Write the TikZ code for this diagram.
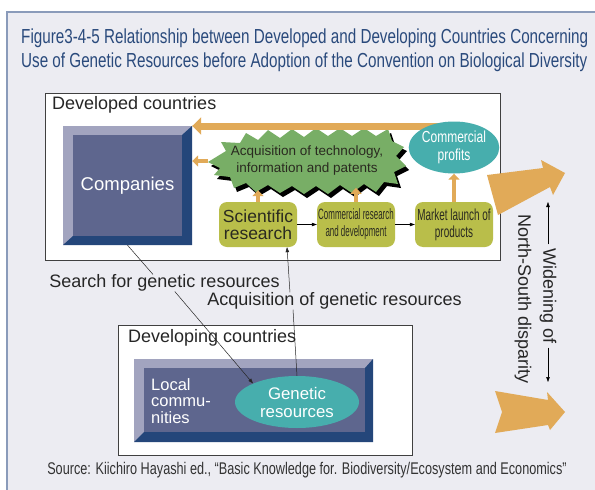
\documentclass[tikz,border=0pt]{standalone}
\usepackage{fontspec}
\setmainfont{Liberation Sans}
\newfontfamily\narrowfont[FakeStretch=0.75]{Liberation Sans}
\newfontfamily\tightfont[FakeStretch=0.62]{Liberation Sans}
\newfontfamily\slimfont[FakeStretch=0.53]{Liberation Sans}
\usetikzlibrary{arrows.meta, positioning, calc, shapes.geometric}

\definecolor{panelbg}{HTML}{ECECF2}
\definecolor{panelline}{HTML}{8A9BBA}
\definecolor{titleblue}{HTML}{2A4A7C}
\definecolor{orangearrow}{HTML}{E1AA58}
\definecolor{burstgreen}{HTML}{78AE66}
\definecolor{boxolive}{HTML}{B9BE4A}
\definecolor{tealfill}{HTML}{47AEAD}
\definecolor{bevellight}{HTML}{A2A4BF}
\definecolor{beveldark}{HTML}{24467A}
\definecolor{bevelface}{HTML}{5E668E}
\definecolor{textdark}{HTML}{2A2A20}

\begin{document}
\begin{tikzpicture}[x=1pt, y=-1pt, node distance=98pt, on grid,
    stage/.style={rectangle, rounded corners=8pt, fill=boxolive, minimum width=78pt,
        minimum height=45pt, align=center, inner sep=1pt, text=textdark},
    pool/.style={ellipse, fill=tealfill, text=white, align=center, inner sep=0pt},
    gain/.style={-{Triangle[length=6pt,width=11pt]}, line width=4pt, draw=orangearrow},
    flow/.style={-{Triangle[length=5pt,width=3.5pt]}, line width=0.5pt},
    link/.style={draw=black!85, line width=0.5pt},
    label/.style={font=\fontsize{18}{20}\selectfont, text=black!85, inner sep=0pt}]
    % panel
    \useasboundingbox (0,0) rectangle (595,490);
    \fill[white] (0,0) rectangle (595,490);
    \fill[panelbg] (7,12) rectangle (595,490);
    \draw[panelline, line width=1.2pt] (7,490) -- (7,12) -- (595,12);
    \node[anchor=west, align=left, text=titleblue, inner sep=0pt,
        font=\narrowfont\fontsize{20.3}{24}\selectfont] (title) at (21,50)
        {Figure3-4-5 Relationship between Developed and Developing Countries Concerning\\
         Use of Genetic Resources before Adoption of the Convention on Biological Diversity};

    % developed countries
    \node[draw=black!75, fill=white, minimum width=455pt, minimum height=167pt] (devd) at (272.5,176.5) {};
    \node[label, anchor=west] (devdlbl) at (52,105) {Developed countries};
    \fill[bevellight] (63,126) rectangle (192,245);
    \fill[beveldark] (192,126) -- (192,245) -- (63,245) -- (73,236) -- (182,236) -- (182,135) -- cycle;
    \fill[bevelface] (73,135) rectangle (182,236);
    \node[minimum width=129pt, minimum height=119pt, text=white,
        font=\fontsize{18.5}{20}\selectfont] (comp) at (127.5,185.5) {Companies};

    % burst
    \foreach \dx/\dy/\col in {3/4/black, 0/0/burstgreen}{
        \fill[\col, shift={(\dx,\dy)}]
            (208,162) -- (226,151) -- (221,142) -- (240,143) -- (246,133) -- (258,140) -- (268,130)
            -- (280,138) -- (292,129) -- (304,137) -- (316,128) -- (328,136) -- (340,128)
            -- (352,136) -- (364,128) -- (376,136) -- (388,129) -- (392,141) -- (404,147)
            -- (396,156) -- (406,166) -- (394,172) -- (398,184) -- (384,182) -- (376,192)
            -- (364,184) -- (352,193) -- (340,185) -- (328,194) -- (316,186) -- (304,194)
            -- (292,186) -- (280,193) -- (268,185) -- (256,192) -- (246,183) -- (234,188)
            -- (230,177) -- (214,175) -- (220,168) -- cycle;
    }
    \node[align=center, inner sep=0pt, minimum width=198pt, minimum height=58pt,
        text=textdark, font=\fontsize{13.5}{17}\selectfont] (acq) at (307,161)
        {Acquisition of technology,\\information and patents};

    \node[stage, font=\fontsize{17.5}{17}\selectfont] (sci) at (258,224.5) {Scientific\\research};
    \node[stage, font=\slimfont\fontsize{15}{17}\selectfont, right=of sci] (crd) {Commercial research\\and development};
    \node[stage, font=\tightfont\fontsize{16}{17}\selectfont, right=of crd] (mkt) {Market launch of\\products};

    \coordinate (cpin) at (448,126);
    \draw[orangearrow, line width=7pt, -{Triangle[length=9pt,width=17pt]}] (cpin) -- (cpin -| comp.east);
    \node[pool, minimum width=76pt, minimum height=52pt, font=\narrowfont\fontsize{16}{18}\selectfont,
        above=77pt of mkt] (cp) {Commercial\\profits};

    \path[flow]
    (sci) edge (crd)
    (crd) edge (mkt);

    \draw[gain] (acq.west) -- (acq.west -| comp.east);
    \draw[gain] (sci.north) -- (sci.north |- acq.south);
    \draw[gain] (crd.north) -- ++(0,-14);
    \draw[gain] (mkt.north) -- (cp.south);

    % developing countries
    \node[draw=black!75, fill=white, minimum width=294pt, minimum height=130pt] (devg) at (265,390) {};
    \node[label, anchor=west] (devglbl) at (128,338) {Developing countries};
    \fill[bevellight] (134,359) rectangle (373,442);
    \fill[beveldark] (373,359) -- (373,442) -- (134,442) -- (144,432) -- (365,432) -- (365,368) -- cycle;
    \fill[bevelface] (144,368) rectangle (365,432);
    \node[minimum width=239pt, minimum height=83pt] (loc) at (253.5,400.5) {};
    \node[anchor=west, align=left, text=white, inner sep=0pt,
        font=\fontsize{16.5}{16.5}\selectfont] (loctxt) at (151,401) {Local\\commu-\\nities};
    \node[pool, minimum width=124pt, minimum height=52pt, font=\fontsize{16.8}{18}\selectfont]
        (gen) at (297,402) {Genetic\\resources};

    % flows between north and south
    \node[label] (srch) at (164.5,283) {Search for genetic resources};
    \node[label] (acqg) at (334.5,301) {Acquisition of genetic resources};
    \draw[link] (comp.south) -- ($(srch.north west)!0.45!(srch.north east)$);
    \draw[link, flow] ($(srch.south west)!0.545!(srch.south east)$) -- (gen.north west);
    \draw[link] (gen.north) -- ($(acqg.south west)!0.337!(acqg.south east)$);
    \draw[link, flow] ($(acqg.north west)!0.325!(acqg.north east)$) -- ($(sci.south west)!0.87!(sci.south east)$);

    % widening gap
    \fill[orangearrow] (487,175) -- (543,168) -- (541,160) -- (565,173) -- (553,195)
        -- (550,187) -- (498,215) -- cycle;
    \fill[orangearrow] (495,391) -- (548,400) -- (547,392) -- (565,412) -- (550,430)
        -- (548,425) -- (495,433) -- (502,412) -- cycle;
    \node[label, rotate=-90] (ns) at (523,299) {North-South disparity};
    \node[label, rotate=-90] (wid) at (548,296) {Widening of};
    \coordinate (widtop) at (548,202);
    \coordinate (widbot) at (548,382);
    \draw[flow] ([yshift=4pt]wid.west) -- (widtop);
    \draw[flow] ([yshift=-4pt]wid.east) -- (widbot);

    \node[text=black!80, font=\narrowfont\fontsize{16.9}{18}\selectfont] (src) at (307,470)
        {Source: Kiichiro Hayashi ed., “Basic Knowledge for. Biodiversity/Ecosystem and Economics”};
\end{tikzpicture}
\end{document}
